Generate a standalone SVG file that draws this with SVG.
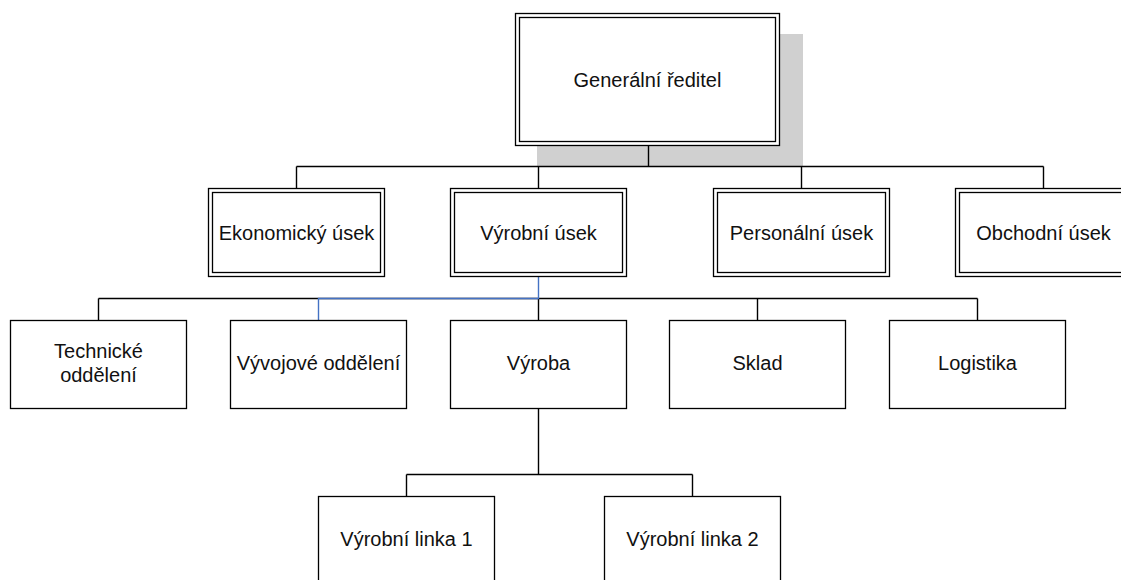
<svg xmlns="http://www.w3.org/2000/svg" width="1121" height="580" viewBox="0 0 1121 580">
<style>
.bx{fill:#fff;stroke:#000;stroke-width:1.3}
.bi{fill:none;stroke:#000;stroke-width:1.3}
.ln{fill:none;stroke:#000;stroke-width:1.4}
.bl{fill:none;stroke:#4472c4;stroke-width:1.4}
text{font-family:"Liberation Sans",Arial,sans-serif;font-size:20px;fill:#111;text-anchor:middle}
</style>
<rect width="1121" height="580" fill="#fff"/>
<rect id="shadow" x="537" y="34" width="266" height="132" fill="#d0d0d0"/>
<g id="connectors">
<path class="ln" d="M648.5 145.5V166.5M296.5 166.5H1043.5M296.5 166.5V188.5M538.5 166.5V188.5M801.5 166.5V188.5M1043.5 166.5V188.5"/>
<path class="ln" d="M98.5 298.5H977.5M98.5 298.5V320.5M538.5 298.5V320.5M757.5 298.5V320.5M977.5 298.5V320.5"/>
<path class="bl" d="M538.5 276.5V298.5H318.5V320.5"/>
<path class="ln" d="M538.5 408.5V474.5M406.5 474.5H692.5M406.5 474.5V496.5M692.5 474.5V496.5"/>
</g>
<g id="n-gr">
<rect class="bx" x="515.5" y="13.5" width="264" height="132"/>
<rect class="bi" x="519.5" y="17.5" width="256" height="124"/>
<text x="647.5" y="87">Generální ředitel</text>
</g>
<g id="n-eko">
<rect class="bx" x="208.5" y="188.5" width="176" height="88"/>
<rect class="bi" x="212.5" y="192.5" width="168" height="80"/>
<text x="296.5" y="240">Ekonomický úsek</text>
</g>
<g id="n-vyr">
<rect class="bx" x="450.5" y="188.5" width="176" height="88"/>
<rect class="bi" x="454.5" y="192.5" width="168" height="80"/>
<text x="538.5" y="240">Výrobní úsek</text>
</g>
<g id="n-per">
<rect class="bx" x="713.5" y="188.5" width="176" height="88"/>
<rect class="bi" x="717.5" y="192.5" width="168" height="80"/>
<text x="801.5" y="240">Personální úsek</text>
</g>
<g id="n-obc">
<rect class="bx" x="955.5" y="188.5" width="176" height="88"/>
<rect class="bi" x="959.5" y="192.5" width="168" height="80"/>
<text x="1043.5" y="240">Obchodní úsek</text>
</g>
<g id="n-tech">
<rect class="bx" x="10.5" y="320.5" width="176" height="88"/>
<text x="98.5" y="358">Technické</text>
<text x="98.5" y="382">oddělení</text>
</g>
<g id="n-vyv">
<rect class="bx" x="230.5" y="320.5" width="176" height="88"/>
<text x="318.5" y="370">Vývojové oddělení</text>
</g>
<g id="n-vyroba">
<rect class="bx" x="450.5" y="320.5" width="176" height="88"/>
<text x="538.5" y="370">Výroba</text>
</g>
<g id="n-sklad">
<rect class="bx" x="669.5" y="320.5" width="176" height="88"/>
<text x="757.5" y="370">Sklad</text>
</g>
<g id="n-log">
<rect class="bx" x="889.5" y="320.5" width="176" height="88"/>
<text x="977.5" y="370">Logistika</text>
</g>
<g id="n-l1">
<rect class="bx" x="318.5" y="496.5" width="176" height="88"/>
<text x="406.5" y="546">Výrobní linka 1</text>
</g>
<g id="n-l2">
<rect class="bx" x="604.5" y="496.5" width="176" height="88"/>
<text x="692.5" y="546">Výrobní linka 2</text>
</g>
</svg>
